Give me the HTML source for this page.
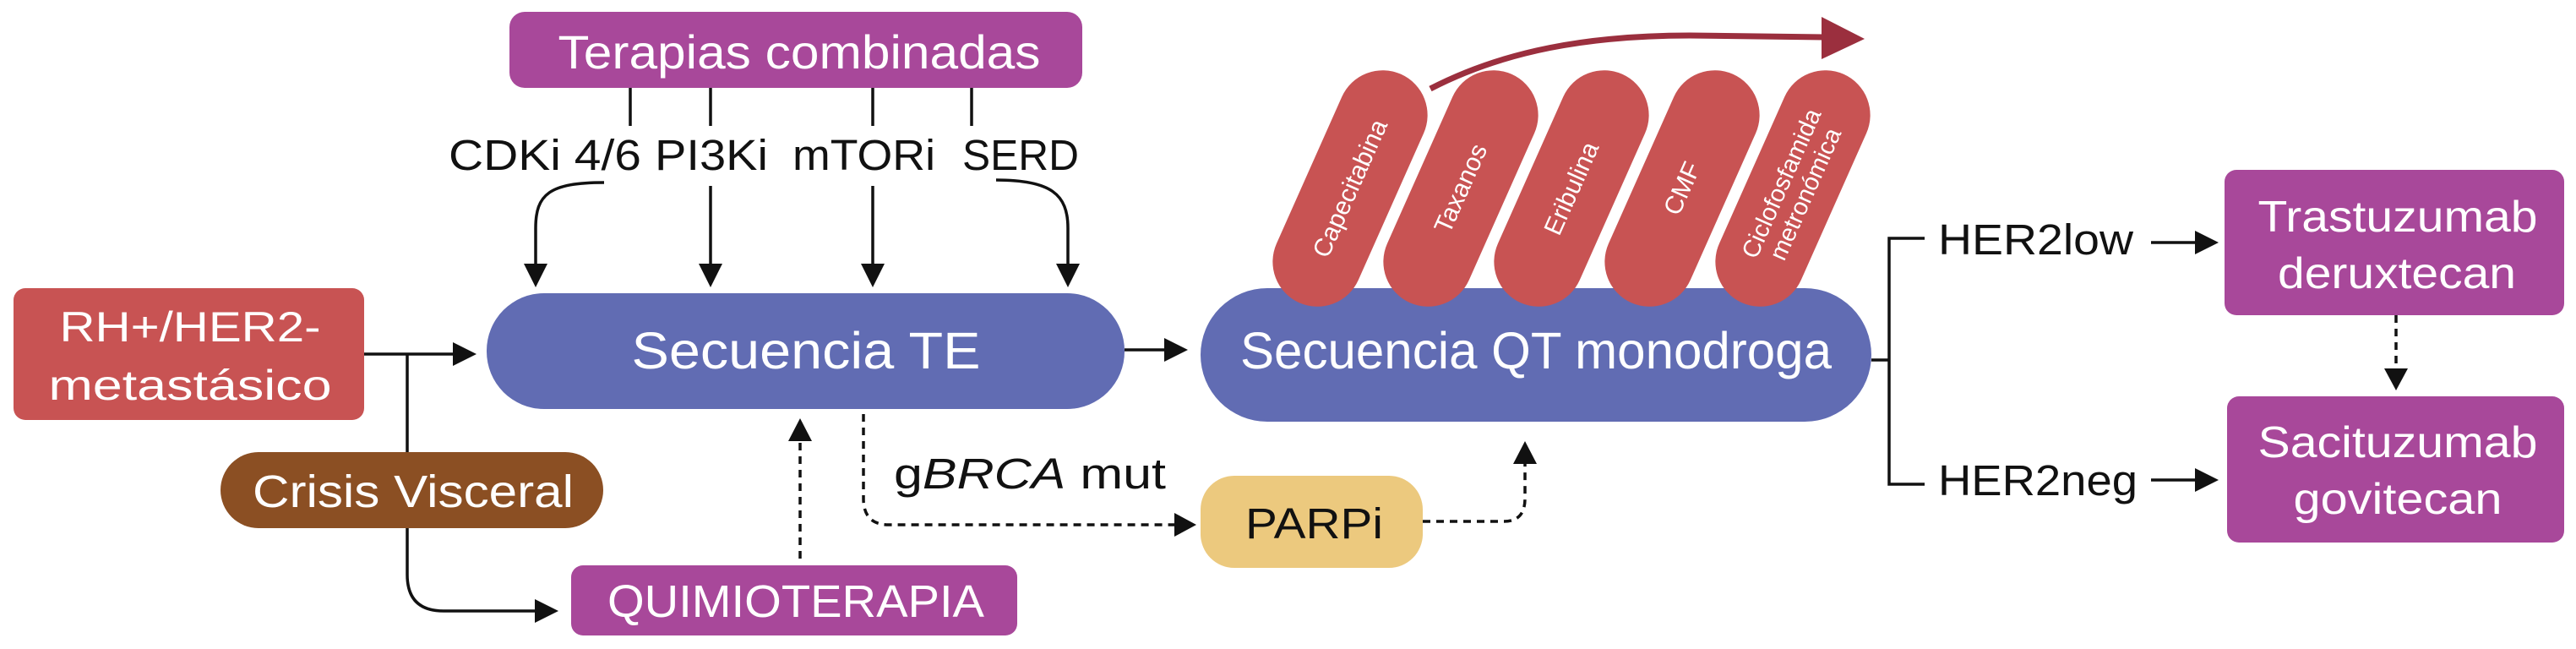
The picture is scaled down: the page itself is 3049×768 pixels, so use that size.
<!DOCTYPE html>
<html><head><meta charset="utf-8"><style>html,body{margin:0;padding:0;background:#fff}svg{display:block}</style></head>
<body>
<svg width="3049" height="768" viewBox="0 0 3049 768" xmlns="http://www.w3.org/2000/svg" font-family="Liberation Sans, sans-serif">
<g fill="none" stroke="#111" stroke-width="3.5">
<line x1="746" y1="104" x2="746" y2="149"/><line x1="841" y1="104" x2="841" y2="149"/>
<line x1="1033" y1="104" x2="1033" y2="149"/><line x1="1150" y1="104" x2="1150" y2="149"/>
<path d="M715,216 C650,216 634,230 634,270 L634,312"/>
<line x1="841" y1="220" x2="841" y2="312"/>
<line x1="1033" y1="220" x2="1033" y2="312"/>
<path d="M1179,213 C1244,213 1264,230 1264,270 L1264,312"/>
<line x1="431" y1="419" x2="540" y2="419"/>
<path d="M482,419 L482,680 Q482,723 525,723 L635,723"/>
<line x1="1331" y1="414" x2="1380" y2="414"/>
<line x1="2215" y1="426" x2="2236" y2="426"/>
<path d="M2278,282 L2236,282 L2236,573 L2278,573"/>
<line x1="2546" y1="287" x2="2600" y2="287"/>
<line x1="2546" y1="568" x2="2600" y2="568"/>
</g>
<g fill="#111">
<path d="M620,312 L648,312 L634,340 z"/>
<path d="M827,312 L855,312 L841,340 z"/>
<path d="M1019,312 L1047,312 L1033,340 z"/>
<path d="M1250,312 L1278,312 L1264,340 z"/>
<path d="M536,405 L564,419 L536,433 z"/>
<path d="M633,709 L661,723 L633,737 z"/>
<path d="M1378,400 L1406,414 L1378,428 z"/>
<path d="M2598,273 L2626,287 L2598,301 z"/>
<path d="M2598,554 L2626,568 L2598,582 z"/>
<path d="M2822,436 L2850,436 L2836,462 z"/>
<path d="M933,522 L961,522 L947,495 z"/>
<path d="M1791,549 L1819,549 L1805,522 z"/>
<path d="M1390,607 L1416,621 L1390,635 z"/>
</g>
<g fill="none" stroke="#111" stroke-width="3.5" stroke-dasharray="9,7">
<line x1="947" y1="661" x2="947" y2="522"/>
<path d="M1022,490 L1022,590 Q1022,621 1052,621 L1392,621"/>
<path d="M1684,617 L1780,617 Q1805,617 1805,590 L1805,549"/>
<line x1="2836" y1="373" x2="2836" y2="438"/>
</g>
<rect x="603" y="14" width="678" height="90" rx="18" fill="#a8489a"/>
<rect x="576" y="347" width="755" height="137" rx="68" fill="#616cb3"/>
<rect x="16" y="341" width="415" height="156" rx="14" fill="#c85353"/>
<rect x="261" y="535" width="453" height="90" rx="45" fill="#8b4f23"/>
<rect x="676" y="669" width="528" height="83" rx="14" fill="#a8489a"/>
<rect x="1421" y="341" width="794" height="158" rx="79" fill="#616cb3"/>
<rect x="1421" y="563" width="263" height="109" rx="40" fill="#ecc97e"/>
<rect x="2633" y="201" width="402" height="172" rx="14" fill="#a8489a"/>
<rect x="2636" y="469" width="399" height="173" rx="14" fill="#a8489a"/>
<g fill="#c85353">
<rect x="-53" y="-148" width="106" height="296" rx="53" transform="translate(1598,223) rotate(24)"/>
<rect x="-53" y="-148" width="106" height="296" rx="53" transform="translate(1729,223) rotate(24)"/>
<rect x="-53" y="-148" width="106" height="296" rx="53" transform="translate(1860,223) rotate(24)"/>
<rect x="-53" y="-148" width="106" height="296" rx="53" transform="translate(1991,223) rotate(24)"/>
<rect x="-53" y="-148" width="106" height="296" rx="53" transform="translate(2122,223) rotate(24)"/>
</g>
<g fill="#fff" font-size="30" text-anchor="middle">
<text transform="translate(1598,223) rotate(-66)" y="10">Capecitabina</text>
<text transform="translate(1729,223) rotate(-66)" y="10">Taxanos</text>
<text transform="translate(1860,223) rotate(-66)" y="10">Eribulina</text>
<text transform="translate(1991,223) rotate(-66)" y="10">CMF</text>
<text transform="translate(2122,223) rotate(-66)" y="-5" font-size="29">Ciclofosfamida</text>
<text transform="translate(2122,223) rotate(-66)" y="26" font-size="29">metronómica</text>
</g>
<path d="M1693,105 C1780,60 1880,42 2000,42 L2160,44" fill="none" stroke="#9b2f3e" stroke-width="7"/>
<path d="M2156,20 L2207,46 L2156,70 z" fill="#9b2f3e"/>
<g fill="#fff" text-anchor="middle">
<text x="946" y="81" font-size="56" textLength="571" lengthAdjust="spacingAndGlyphs">Terapias combinadas</text>
<text x="954" y="436" font-size="61" textLength="413" lengthAdjust="spacingAndGlyphs">Secuencia TE</text>
<text x="225" y="404" font-size="50" textLength="309" lengthAdjust="spacingAndGlyphs">RH+/HER2-</text>
<text x="225" y="473" font-size="50" textLength="335" lengthAdjust="spacingAndGlyphs">metastásico</text>
<text x="489" y="600" font-size="54" textLength="380" lengthAdjust="spacingAndGlyphs">Crisis Visceral</text>
<text x="942" y="730" font-size="54" textLength="446" lengthAdjust="spacingAndGlyphs">QUIMIOTERAPIA</text>
<text x="1818" y="436" font-size="61" textLength="700" lengthAdjust="spacingAndGlyphs">Secuencia QT monodroga</text>
<text x="2838" y="274" font-size="52" textLength="331" lengthAdjust="spacingAndGlyphs">Trastuzumab</text>
<text x="2837" y="341" font-size="52" textLength="282" lengthAdjust="spacingAndGlyphs">deruxtecan</text>
<text x="2838" y="541" font-size="52" textLength="331" lengthAdjust="spacingAndGlyphs">Sacituzumab</text>
<text x="2838" y="608" font-size="52" textLength="247" lengthAdjust="spacingAndGlyphs">govitecan</text>
</g>
<g fill="#111" font-size="51">
<text x="531" y="201" textLength="228" lengthAdjust="spacingAndGlyphs">CDKi 4/6</text>
<text x="775" y="201" textLength="134" lengthAdjust="spacingAndGlyphs">PI3Ki</text>
<text x="938" y="201" textLength="169" lengthAdjust="spacingAndGlyphs">mTORi</text>
<text x="1139" y="201" textLength="138" lengthAdjust="spacingAndGlyphs">SERD</text>
<text x="1058" y="578" textLength="322" lengthAdjust="spacingAndGlyphs">g<tspan font-style="italic">BRCA</tspan> mut</text>
<text x="1474" y="637" textLength="163" lengthAdjust="spacingAndGlyphs">PARPi</text>
<text x="2294" y="301" textLength="231" lengthAdjust="spacingAndGlyphs">HER2low</text>
<text x="2294" y="586" textLength="236" lengthAdjust="spacingAndGlyphs">HER2neg</text>
</g>
</svg>
</body></html>
